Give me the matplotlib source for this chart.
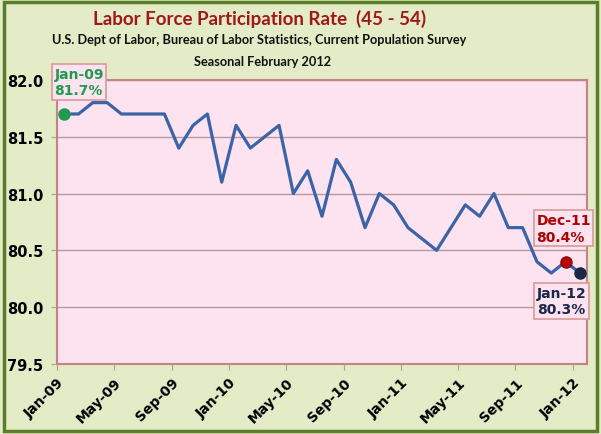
import matplotlib.pyplot as plt
from matplotlib.patches import Rectangle

# monthly values Jan-09 .. Jan-12
months = ['Jan-09', 'Feb-09', 'Mar-09', 'Apr-09', 'May-09', 'Jun-09', 'Jul-09', 'Aug-09',
          'Sep-09', 'Oct-09', 'Nov-09', 'Dec-09', 'Jan-10', 'Feb-10', 'Mar-10', 'Apr-10',
          'May-10', 'Jun-10', 'Jul-10', 'Aug-10', 'Sep-10', 'Oct-10', 'Nov-10', 'Dec-10',
          'Jan-11', 'Feb-11', 'Mar-11', 'Apr-11', 'May-11', 'Jun-11', 'Jul-11', 'Aug-11',
          'Sep-11', 'Oct-11', 'Nov-11', 'Dec-11', 'Jan-12']
rate = [81.7, 81.7, 81.8, 81.8, 81.7, 81.7, 81.7, 81.7,
        81.4, 81.6, 81.7, 81.1, 81.6, 81.4, 81.5, 81.6,
        81.0, 81.2, 80.8, 81.3, 81.1, 80.7, 81.0, 80.9,
        80.7, 80.6, 80.5, 80.7, 80.9, 80.8, 81.0, 80.7,
        80.7, 80.4, 80.3, 80.4, 80.3]
yticks = [79.5, 80.0, 80.5, 81.0, 81.5, 82.0]

x = list(range(len(months)))

fig = plt.figure(figsize=(6.01, 4.35), dpi=100)
fig.patch.set_facecolor('#e3ebc7')
fig.patches.append(Rectangle((0.006, 0.008), 0.988, 0.986, transform=fig.transFigure,
                             fill=False, edgecolor='#5c7d2a', linewidth=2.5))

ax = fig.add_axes([0.0948, 0.161, 0.882, 0.653])
ax.set_facecolor('#fde2ef')
for s in ax.spines.values():
    s.set_color('#c48484')
    s.set_linewidth(1.5)

ax.plot(x, rate, color='#3b64a8', linewidth=2.3, zorder=3)
ax.plot(x[0], rate[0], 'o', color='#1f9a4e', markersize=8, zorder=4)
ax.plot(x[-2], rate[-2], 'o', color='#c00000', markeredgecolor='#7a1010', markersize=8, zorder=4)
ax.plot(x[-1], rate[-1], 'o', color='#1a2748', markersize=8, zorder=4)

ax.set_xlim(-0.5, len(months) - 0.5)
ax.set_ylim(79.5, 82.0)
ax.set_yticks(yticks)
ax.set_yticklabels([f'{v:.1f}' for v in yticks], fontsize=10.5, fontweight='bold')
ax.yaxis.grid(True, color='#b89a9a', linewidth=1)
ax.set_axisbelow(True)
ax.tick_params(axis='y', length=4, color='#b0a090', pad=6)

ticks = [i - 0.5 for i in range(0, len(months), 4)]
ax.set_xticks(ticks)
ax.set_xticklabels(months[::4], rotation=45, ha='right', va='top',
                   rotation_mode='anchor', fontsize=10, fontweight='bold')
ax.tick_params(axis='x', length=4, color='#b0a090', pad=4)

box = dict(boxstyle='square,pad=0.18', facecolor='#fde2ef', edgecolor='#d99a9a', linewidth=1.2)
ax.annotate(f'{months[0]}\n{rate[0]:.1f}%', (x[0], rate[0]), xytext=(-7, 12),
            textcoords='offset points', color='#1f9a4e', fontsize=10, fontweight='bold',
            ha='left', va='bottom', bbox=box, annotation_clip=False, linespacing=1.25,
            zorder=5)
ax.annotate(f'{months[-2]}\n{rate[-2]:.1f}%', (x[-2], rate[-2]), xytext=(-21, 13),
            textcoords='offset points', color='#b00000', fontsize=10, fontweight='bold',
            ha='left', va='bottom', bbox=box, linespacing=1.25)
ax.annotate(f'{months[-1]}\n{rate[-1]:.1f}%', (x[-1], rate[-1]), xytext=(-31, -9),
            textcoords='offset points', color='#1a2748', fontsize=10, fontweight='bold',
            ha='left', va='top', bbox=box, linespacing=1.25)

fig.text(0.432, 0.957, 'Labor Force Participation Rate  (45 - 54)', ha='center', va='center',
         fontsize=13.5, fontweight='bold', color='#a01818', family='Lato')
fig.text(0.432, 0.907, 'U.S. Dept of Labor, Bureau of Labor Statistics, Current Population Survey',
         ha='center', va='center', fontsize=9.2, fontweight='bold', color='#111111', family='Lato')
fig.text(0.437, 0.858, 'Seasonal February 2012', ha='center', va='center',
         fontsize=9.2, fontweight='bold', color='#111111', family='Lato')

fig.savefig('out.png', dpi=100, facecolor=fig.get_facecolor())
